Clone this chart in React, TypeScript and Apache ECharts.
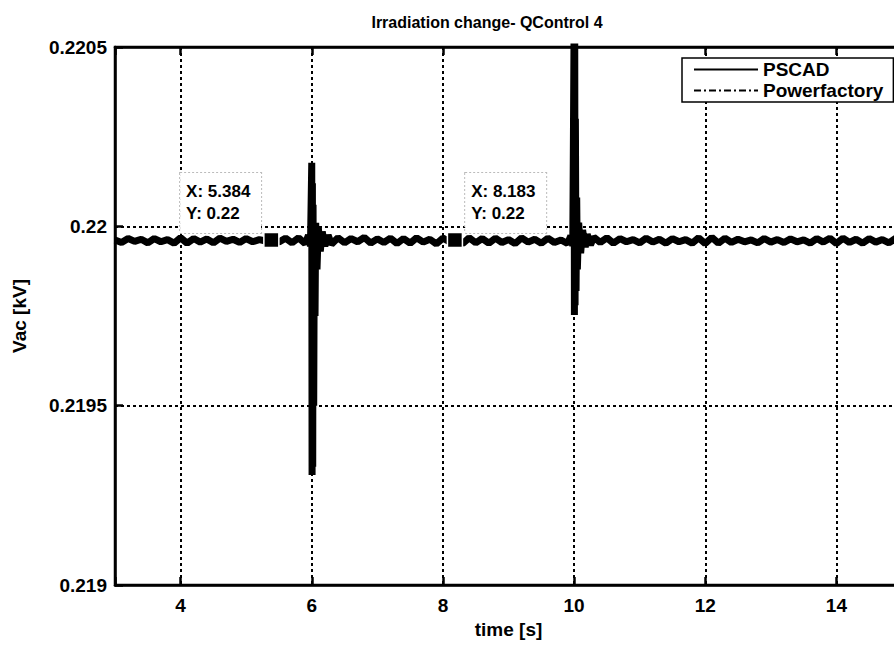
import React, { useEffect, useRef } from 'react';
import * as echarts from 'echarts';

const titleText = 'Irradiation change- QControl 4';
const xName = 'time [s]';
const yName = 'Vac [kV]';
const seriesNames = ['PSCAD', 'Powerfactory'];
const xTickLabels = [4, 6, 8, 10, 12, 14];
const yTickLabels = ['0.219', '0.2195', '0.22', '0.2205'];

const pscadTime = [
  3.0, 3.1, 3.2, 3.3, 3.4, 3.5, 3.6, 3.7, 3.8, 3.9,
  4.0, 4.1, 4.2, 4.3, 4.4, 4.5, 4.6, 4.7, 4.8, 4.9,
  5.0, 5.1, 5.2, 5.3, 5.4, 5.5, 5.6, 5.7, 5.8, 5.9,
  5.95, 5.98, 6.0, 6.005, 6.01, 6.015, 6.02, 6.03, 6.04, 6.05, 6.06, 6.08, 6.1, 6.13, 6.16, 6.2, 6.25, 6.3,
  6.4, 6.5, 6.6, 6.7, 6.8, 6.9, 7.0, 7.1, 7.2, 7.3, 7.4, 7.5, 7.6, 7.7, 7.8, 7.9,
  8.0, 8.1, 8.2, 8.3, 8.4, 8.5, 8.6, 8.7, 8.8, 8.9, 9.0, 9.1, 9.2, 9.3, 9.4, 9.5, 9.6, 9.7, 9.8, 9.9,
  9.95, 9.98, 10.0, 10.005, 10.01, 10.015, 10.02, 10.03, 10.04, 10.05, 10.07, 10.1, 10.13, 10.17, 10.2, 10.25, 10.3,
  10.4, 10.5, 10.6, 10.7, 10.8, 10.9, 11.0, 11.1, 11.2, 11.3, 11.4, 11.5, 11.6, 11.7, 11.8, 11.9,
  12.0, 12.1, 12.2, 12.3, 12.4, 12.5, 12.6, 12.7, 12.8, 12.9, 13.0, 13.1, 13.2, 13.3, 13.4, 13.5,
  13.6, 13.7, 13.8, 13.9, 14.0, 14.1, 14.2, 14.3, 14.4, 14.5, 14.6, 14.7, 14.8, 14.9, 15.0,
];
const pscadVac = [
  0.219962, 0.219955, 0.219966, 0.219958, 0.219964, 0.219954, 0.219966, 0.219957, 0.219963, 0.219953,
  0.219968, 0.219953, 0.219966, 0.219956, 0.219965, 0.219954, 0.219967, 0.219958, 0.219964, 0.219955,
  0.219966, 0.219957, 0.219963, 0.219959, 0.219962, 0.219956, 0.219967, 0.219954, 0.219968, 0.219952,
  0.219975, 0.219945, 0.220177, 0.219307, 0.22012, 0.21933, 0.22006, 0.2195, 0.22, 0.21975, 0.22001, 0.21988, 0.219998, 0.21993, 0.219985, 0.219945, 0.219975, 0.21995,
  0.219968, 0.219954, 0.219966, 0.219957, 0.219969, 0.219953, 0.219965, 0.219955, 0.219967, 0.219952, 0.219966, 0.219953, 0.219968, 0.219956, 0.219964, 0.219951,
  0.219967, 0.219957, 0.219963, 0.219952, 0.219968, 0.219954, 0.219966, 0.219953, 0.219967, 0.219955, 0.219963, 0.219952, 0.219968, 0.219956, 0.219964, 0.219953, 0.219967, 0.219955, 0.219962, 0.219952,
  0.219973, 0.219946, 0.22056, 0.219753, 0.22054, 0.21978, 0.2203, 0.21982, 0.22008, 0.21988, 0.22001, 0.219925, 0.21999, 0.219942, 0.219978, 0.219948, 0.21997,
  0.219955, 0.219968, 0.219953, 0.219966, 0.219957, 0.219963, 0.219954, 0.219967, 0.219956, 0.219964, 0.219953, 0.219966, 0.219957, 0.219963, 0.219953, 0.219968,
  0.219952, 0.219969, 0.219953, 0.219967, 0.219955, 0.219964, 0.219957, 0.219962, 0.219954, 0.219966, 0.219956, 0.219963, 0.219955, 0.219965, 0.219957, 0.219962,
  0.219953, 0.219966, 0.219956, 0.219967, 0.219952, 0.219967, 0.219955, 0.219964, 0.219953, 0.219966, 0.219956, 0.219963, 0.219954, 0.219966, 0.219957,
];

const pfTime = [3.0, 6.0, 10.0, 15.0];
const pfVac = [0.219961, 0.219961, 0.219961, 0.219961];

const tipTime = [5.384, 8.183];
const tipVac = [0.219962, 0.219962];
const tipSide = ['left', 'right'];

const FONT = '"Liberation Sans", Arial, sans-serif';
const FS = 19;

export default function App() {
  const ref = useRef<HTMLDivElement>(null);
  useEffect(() => {
    if (!ref.current) return;
    const chart = echarts.init(ref.current, null, { renderer: 'svg' });
    const pscadData = pscadTime.map((t, i) => [t, pscadVac[i]]);
    const pfData = pfTime.map((t, i) => [t, pfVac[i]]);
    const tipData = tipTime.map((t, i) => ({
      value: [t, tipVac[i]],
      label: {
        position: tipSide[i],
        distance: 2,
        offset: [0, -37],
      },
    }));
    const gridStyle = { color: '#000', width: 2, type: [3, 3] as any };
    const boldText = { fontFamily: FONT, fontWeight: 'bold', fontSize: FS, color: '#000' };
    chart.setOption({
      animation: false,
      backgroundColor: '#fff',
      textStyle: { fontFamily: FONT },
      graphic: [
        {
          type: 'text',
          x: 487,
          y: 22,
          style: {
            text: titleText,
            fontFamily: FONT,
            fontWeight: 'bold',
            fontSize: 16,
            fill: '#000',
            align: 'center',
            verticalAlign: 'middle',
          },
        },
      ],
      legend: {
        data: seriesNames,
        orient: 'vertical',
        left: 682,
        top: 58,
        padding: [2, 10, 2, 11],
        itemGap: 2,
        itemWidth: 64,
        itemHeight: 14,
        backgroundColor: '#fff',
        borderColor: '#000',
        borderWidth: 1.5,
        borderRadius: 0,
        itemStyle: { opacity: 0 },
        textStyle: boldText,
      },
      grid: {
        left: 115,
        top: 47,
        bottom: 61,
        right: 0,
        show: true,
        borderColor: '#000',
        borderWidth: 2.5,
        backgroundColor: 'transparent',
      },
      xAxis: [
        {
          type: 'value',
          min: 3,
          max: 15,
          splitNumber: 6,
          name: xName,
          nameLocation: 'middle',
          nameGap: 30,
          nameTextStyle: boldText,
          axisLine: { show: true, lineStyle: { color: '#000', width: 2.5 } },
          axisTick: { show: true, inside: true, length: 8, lineStyle: { color: '#000', width: 2.5 } },
          axisLabel: {
            margin: 11,
            ...boldText,
            formatter: (v: number) => (xTickLabels.includes(Math.round(v * 1000) / 1000) ? String(v) : ''),
          },
          splitLine: { show: true, lineStyle: gridStyle },
        },
        {
          type: 'value',
          position: 'top',
          min: 3,
          max: 15,
          splitNumber: 6,
          axisLine: { show: true, lineStyle: { color: '#000', width: 2.5 } },
          axisTick: { show: true, inside: true, length: 8, lineStyle: { color: '#000', width: 2.5 } },
          axisLabel: { show: false },
          splitLine: { show: false },
        },
      ],
      yAxis: {
        type: 'value',
        min: 0.219,
        max: 0.2205,
        interval: 0.0005,
        name: yName,
        nameLocation: 'middle',
        nameGap: 86,
        nameRotate: 90,
        nameTextStyle: boldText,
        axisLine: { show: true, lineStyle: { color: '#000', width: 2.5 } },
        axisTick: { show: true, inside: true, length: 8, lineStyle: { color: '#000', width: 2.5 } },
        axisLabel: {
          margin: 8,
          ...boldText,
          formatter: (v: number) => {
            let best = yTickLabels[0];
            let d = Infinity;
            for (const s of yTickLabels) {
              const dd = Math.abs(parseFloat(s) - v);
              if (dd < d) { d = dd; best = s; }
            }
            return best;
          },
        },
        splitLine: { show: true, lineStyle: gridStyle },
      },
      series: [
        {
          name: seriesNames[0],
          type: 'line',
          data: pscadData,
          symbol: 'none',
          clip: true,
          lineStyle: { color: '#000', width: 7 },
          itemStyle: { color: '#000' },
          z: 3,
        },
        {
          name: seriesNames[1],
          type: 'line',
          data: pfData,
          symbol: 'none',
          clip: true,
          lineStyle: { color: '#000', width: 1.6, type: [7, 3, 2, 3] },
          itemStyle: { color: '#000' },
          z: 4,
        },
        {
          name: 'datatip',
          type: 'scatter',
          data: tipData,
          symbol: 'rect',
          symbolSize: 15,
          itemStyle: { color: '#000', opacity: 1, borderColor: '#fff', borderWidth: 1.5 },
          z: 10,
          label: {
            show: true,
            formatter: (p: any) => `{a|X: ${p.value[0]}}\n{a|Y: ${Number(p.value[1]).toFixed(2)}}`,
            rich: {
              a: {
                fontFamily: FONT,
                fontWeight: 'bold',
                fontSize: 17,
                color: '#000',
                lineHeight: 22,
                width: 66,
                align: 'left',
              },
            },
            backgroundColor: '#fff',
            borderColor: '#bbb',
            borderWidth: 1,
            borderType: 'dotted',
            padding: [8, 9, 8, 6],
          },
        },
      ],
    });
    return () => chart.dispose();
  }, []);
  return (
    <div style={{ position: 'fixed', left: 0, top: 0, width: 894, height: 646, overflow: 'hidden', background: '#fff' }}>
      <div ref={ref} style={{ width: 905, height: 646 }} />
    </div>
  );
}
